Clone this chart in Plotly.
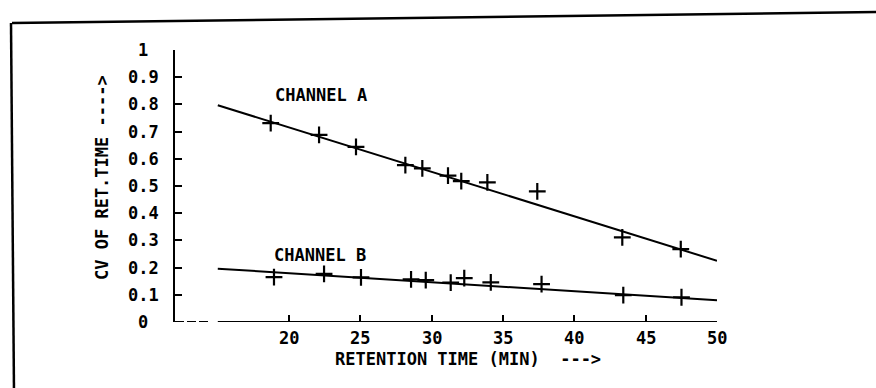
import plotly.graph_objects as go

# Retention times (min) and coefficient of variation for the two channels
a_time = [18.71, 22.10, 24.69, 28.15, 29.34, 31.14, 32.07, 33.90, 37.40, 43.36, 47.46]
a_cv = [0.731, 0.688, 0.644, 0.577, 0.565, 0.538, 0.518, 0.513, 0.480, 0.311, 0.268]
b_time = [18.94, 22.45, 25.04, 28.55, 29.58, 31.33, 32.28, 34.14, 37.70, 43.43, 47.51]
b_cv = [0.165, 0.177, 0.164, 0.157, 0.154, 0.145, 0.161, 0.146, 0.139, 0.099, 0.091]

# Fitted straight lines (endpoints of each regression line)
fit_time = [15, 50]
a_fit = [0.797, 0.225]
b_fit = [0.196, 0.080]

# Axis setup
x_range = [12, 50]
x_break = 15          # axis is dashed left of this value
x_ticks = [20, 25, 30, 35, 40, 45, 50]
x_labels = ["20", "25", "30", "35", "40", "45", "50"]
y_ticks = [0, 0.1, 0.2, 0.3, 0.4, 0.5, 0.6, 0.7, 0.8, 0.9, 1]
y_labels = ["0", "0.1", "0.2", "0.3", "0.4", "0.5", "0.6", "0.7", "0.8", "0.9", "1"]

FONT = dict(family="DejaVu Sans Mono", size=17, color="black", weight="bold")
INK = "black"

fig = go.Figure()

for t, fit in ((fit_time, a_fit), (fit_time, b_fit)):
    fig.add_trace(go.Scatter(x=t, y=fit, mode="lines",
                             line=dict(color=INK, width=2), hoverinfo="skip"))

for t, cv in ((a_time, a_cv), (b_time, b_cv)):
    fig.add_trace(go.Scatter(x=t, y=cv, mode="markers",
                             marker=dict(symbol="cross-thin", size=12,
                                         line=dict(color=INK, width=2.2))))

# x axis drawn by hand: dashed stub, then solid line
fig.add_shape(type="line", xref="x", yref="y", x0=x_range[0], x1=x_break - 0.5,
              y0=0, y1=0, line=dict(color=INK, width=2, dash="9px,3px"))
fig.add_shape(type="line", xref="x", yref="y", x0=x_break, x1=x_range[1],
              y0=0, y1=0, line=dict(color=INK, width=2))

# outer frame (top and left edges)
fig.add_shape(type="line", xref="paper", yref="paper",
              x0=(12 - 175) / 542, y0=(322 - 23) / 272,
              x1=(880 - 175) / 542, y1=(322 - 12) / 272,
              line=dict(color=INK, width=2.5))
fig.add_shape(type="line", xref="paper", yref="paper",
              x0=(11 - 175) / 542, y0=(322 - 23) / 272,
              x1=(14 - 175) / 542, y1=(322 - 392) / 272,
              line=dict(color=INK, width=2.5))

annotations = []
for v, lab in zip(y_ticks, y_labels):
    annotations.append(dict(x=x_range[0], y=v, xref="x", yref="y", text=lab,
                            showarrow=False, xanchor="center", yanchor="middle",
                            xshift=-32, font=FONT))
for v, lab in zip(x_ticks, x_labels):
    annotations.append(dict(x=v, y=0, xref="x", yref="y", text=lab,
                            showarrow=False, xanchor="center", yanchor="middle",
                            yshift=-16, font=FONT))

annotations += [
    dict(x=18.85, y=0.833, xref="x", yref="y", text="CHANNEL A", showarrow=False,
         xanchor="left", yanchor="middle", font=FONT),
    dict(x=18.8, y=0.248, xref="x", yref="y", text="CHANNEL B", showarrow=False,
         xanchor="left", yanchor="middle", font=FONT),
    dict(x=0, y=(322 - 178) / 272, xref="paper", yref="paper", xshift=-73,
         text="CV OF RET.TIME ---->", textangle=-90, showarrow=False,
         xanchor="center", yanchor="middle", font=FONT),
    dict(x=(333 - 175) / 542, y=0, xref="paper", yref="paper", yshift=-37,
         text="RETENTION TIME (MIN)  --->", showarrow=False,
         xanchor="left", yanchor="middle", font=FONT),
]

fig.update_layout(
    width=876, height=388,
    margin=dict(l=175, r=159, t=50, b=66),
    paper_bgcolor="white", plot_bgcolor="white",
    showlegend=False,
    annotations=annotations,
    xaxis=dict(range=x_range, tickvals=x_ticks, showticklabels=False,
               ticks="inside", ticklen=7, tickwidth=2, tickcolor=INK,
               showline=False, showgrid=False, zeroline=False),
    yaxis=dict(range=[0, 1], tickvals=y_ticks, showticklabels=False,
               ticks="inside", ticklen=7, tickwidth=2, tickcolor=INK,
               showline=True, linecolor=INK, linewidth=2,
               showgrid=False, zeroline=False),
)

fig.write_html("out.html")
